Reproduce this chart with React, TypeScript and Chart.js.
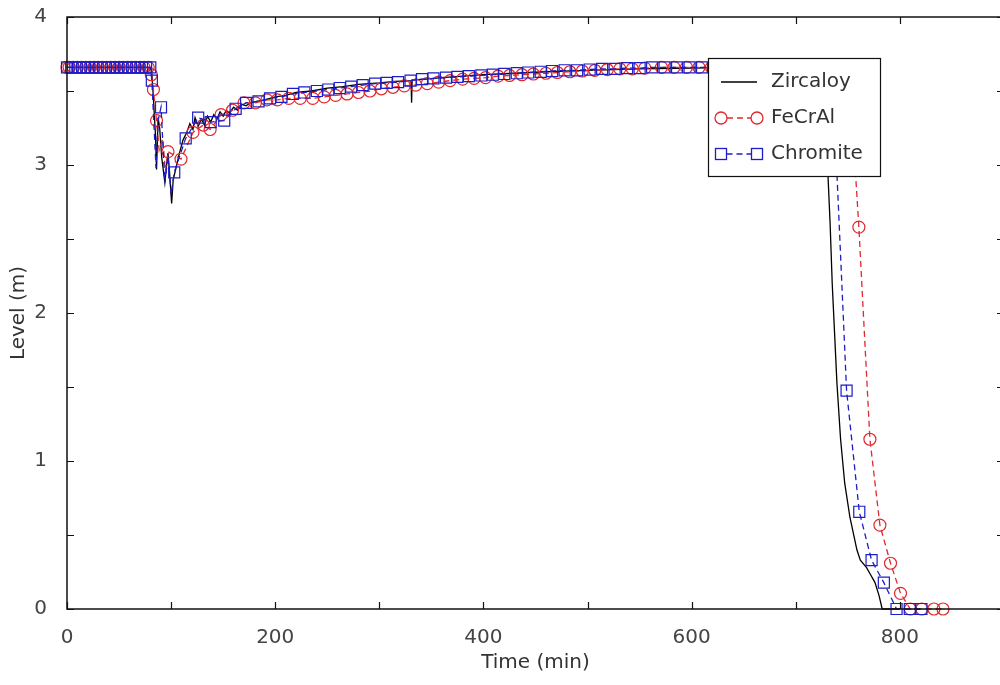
import React, { useEffect, useRef } from 'react';
import { Chart, registerables } from 'chart.js';

Chart.register(...registerables);

// ---------------- data ----------------
const seriesNames = ['Zircaloy', 'FeCrAl', 'Chromite'];

const xTickLabels = ['0', '200', '400', '600', '800'];
const yTickLabels = ['0', '1', '2', '3', '4'];

// Zircaloy (solid black line)
const zircaloyT = [
  0, 20, 40, 60, 80, 81.5, 83, 85, 86, 87.5, 89, 91, 94, 96, 97, 98.5, 100.5, 102, 105, 108,
  111.5, 115, 118, 121, 123, 126, 129, 132, 135, 138, 141, 144, 147, 150, 153, 156, 160, 164, 168, 172,
  176, 182, 190, 200, 210, 220, 235, 250, 265, 280, 300, 315, 330.5, 331, 331.5, 345, 360, 380, 400, 430,
  460, 500, 550, 600, 650, 700, 718, 724, 728, 731, 733, 735, 739.5, 743, 747, 752, 758.7, 762, 768, 772,
  776, 780, 783, 800,
];
const zircaloyL = [
  3.66, 3.66, 3.66, 3.66, 3.66, 3.62, 3.45, 3.2, 2.97, 3.32, 3.25, 3.05, 2.88, 3.02, 3.08, 2.95, 2.74, 2.9, 2.99, 3.08,
  3.17, 3.22, 3.28, 3.24, 3.32, 3.26, 3.31, 3.27, 3.33, 3.29, 3.34, 3.31, 3.36, 3.33, 3.37, 3.35, 3.39, 3.37, 3.41, 3.40,
  3.42, 3.43, 3.44, 3.46, 3.47, 3.49, 3.50, 3.52, 3.53, 3.545, 3.555, 3.565, 3.57, 3.42, 3.575, 3.58, 3.59, 3.60, 3.61, 3.62,
  3.63, 3.64, 3.65, 3.655, 3.66, 3.66, 3.66, 3.58, 3.3, 2.92, 2.6, 2.2, 1.53, 1.15, 0.85, 0.62, 0.40, 0.33, 0.28, 0.23,
  0.18, 0.09, 0.0, 0.0,
];

// FeCrAl (red dashed, circle markers)
const fecralT = [
  0, 2, 6, 10, 14, 18, 22, 26, 30, 34, 38, 42, 46, 50, 54, 58, 62, 66, 70, 74, 78,
  81, 83, 86, 97, 109.5, 121, 131, 137.5, 148, 159, 170, 181, 192, 202, 213, 224, 236, 247, 258,
  269, 280, 291, 302, 313, 324, 335, 346, 357, 368, 380, 391, 402, 414, 425, 437, 448, 460, 471, 483,
  495, 507, 519, 531, 543, 555, 571, 583, 595, 607, 619, 631, 643, 655, 667, 679, 691, 703, 715, 727,
  739, 751, 760.6, 771.2, 780.8, 791, 800.6, 810, 821, 832.7, 841.4,
];
const fecralL = [
  3.66, 3.66, 3.66, 3.66, 3.66, 3.66, 3.66, 3.66, 3.66, 3.66, 3.66, 3.66, 3.66, 3.66, 3.66, 3.66, 3.66, 3.66, 3.66, 3.66, 3.66,
  3.61, 3.51, 3.30, 3.09, 3.04, 3.22, 3.27, 3.24, 3.34, 3.37, 3.42, 3.42, 3.44, 3.44, 3.45, 3.45, 3.45, 3.46, 3.47,
  3.48, 3.49, 3.50, 3.515, 3.525, 3.535, 3.54, 3.55, 3.56, 3.57, 3.58, 3.585, 3.59, 3.60, 3.605, 3.61, 3.615, 3.62, 3.625, 3.63,
  3.635, 3.64, 3.645, 3.65, 3.65, 3.655, 3.66, 3.66, 3.66, 3.66, 3.66, 3.66, 3.66, 3.66, 3.66, 3.66, 3.66, 3.66, 3.66, 3.66,
  3.66, 3.66, 2.58, 1.147, 0.567, 0.309, 0.106, 0, 0, 0, 0,
];
// FeCrAl extra line-only points in the dip
const fecralDipT = [88.5, 92, 94.5];
const fecralDipL = [3.10, 3.18, 2.96];

// Chromite (blue dashed, square markers)
const chromiteT = [
  0, 4, 8, 12, 16, 20, 24, 28, 32, 36, 40, 44, 48, 52, 56, 60, 64, 68, 72, 76, 80,
  81.5, 90.3, 103, 114, 126, 138, 151, 162, 172, 184, 195, 206, 217, 228, 240, 251, 262, 273, 284,
  296, 307, 318, 330, 341, 352, 364, 375, 386, 398, 409, 420, 432, 443, 455, 466, 478, 490, 502, 514,
  526, 538, 550, 562, 574, 586, 598, 610, 622, 634, 646, 658, 670, 682, 694, 706, 718, 728, 735, 748.8,
  761, 772.8, 784.6, 796.8, 809.5, 820.7,
];
const chromiteL = [
  3.66, 3.66, 3.66, 3.66, 3.66, 3.66, 3.66, 3.66, 3.66, 3.66, 3.66, 3.66, 3.66, 3.66, 3.66, 3.66, 3.66, 3.66, 3.66, 3.66, 3.66,
  3.57, 3.39, 2.95, 3.18, 3.32, 3.29, 3.30, 3.38, 3.42, 3.43, 3.45, 3.46, 3.48, 3.49, 3.50, 3.51, 3.52, 3.53, 3.54,
  3.55, 3.555, 3.56, 3.57, 3.58, 3.585, 3.59, 3.595, 3.60, 3.605, 3.61, 3.615, 3.62, 3.625, 3.63, 3.635, 3.64, 3.64, 3.645, 3.65,
  3.65, 3.655, 3.655, 3.66, 3.66, 3.66, 3.66, 3.66, 3.66, 3.66, 3.66, 3.66, 3.66, 3.66, 3.66, 3.66, 3.66, 3.66, 3.66, 1.475,
  0.657, 0.33, 0.178, 0, 0, 0,
];
// Chromite extra line-only points in the dip
const chromiteDipT = [85.5, 87.5, 94, 97, 100];
const chromiteDipL = [2.98, 3.30, 2.88, 3.06, 2.80];

// ---------------- helpers ----------------
const toPts = (t: number[], l: number[]) => t.map((x, i) => ({ x, y: l[i] }));
const mergePts = (t1: number[], l1: number[], t2: number[], l2: number[]) =>
  [...toPts(t1, l1), ...toPts(t2, l2)].sort((a, b) => a.x - b.x);

const RED = 'rgb(225,40,45)';
const BLUE = 'rgb(28,28,200)';
const FONT_FAMILY = '"DejaVu Sans", Verdana, sans-serif';

const frameTicksPlugin = {
  id: 'frameTicks',
  afterDatasetsDraw(chart: any) {
    const { ctx, chartArea, scales } = chart;
    const { left, right, top, bottom } = chartArea;
    const len = 7;
    ctx.save();
    ctx.strokeStyle = '#111';
    ctx.lineWidth = 1.5;
    ctx.strokeRect(left, top, right - left, bottom - top);
    ctx.lineWidth = 1.2;
    ctx.beginPath();
    scales.x.ticks.forEach((tk: any) => {
      const px = Math.round(scales.x.getPixelForValue(tk.value)) + 0.5;
      ctx.moveTo(px, bottom);
      ctx.lineTo(px, bottom - len);
      ctx.moveTo(px, top);
      ctx.lineTo(px, top + len);
    });
    scales.y.ticks.forEach((tk: any) => {
      const py = Math.round(scales.y.getPixelForValue(tk.value)) + 0.5;
      ctx.moveTo(left, py);
      ctx.lineTo(left + len, py);
      ctx.moveTo(right, py);
      ctx.lineTo(right - len, py);
    });
    ctx.stroke();

    // legend box
    const bx = right - 296;
    const by = top + 41;
    const bw = 172;
    const bh = 118;
    ctx.fillStyle = '#fff';
    ctx.fillRect(bx, by, bw, bh);
    ctx.strokeStyle = '#111';
    ctx.lineWidth = 1.2;
    ctx.strokeRect(bx + 0.5, by + 0.5, bw, bh);

    const rowY = [by + 24, by + 60, by + 96];
    const sx1 = bx + 13;
    const sx2 = bx + 49;
    // Zircaloy sample
    ctx.strokeStyle = '#000';
    ctx.lineWidth = 1.3;
    ctx.setLineDash([]);
    ctx.beginPath();
    ctx.moveTo(sx1, rowY[0]);
    ctx.lineTo(sx2, rowY[0]);
    ctx.stroke();
    // FeCrAl sample
    ctx.strokeStyle = RED;
    ctx.setLineDash([6, 4]);
    ctx.beginPath();
    ctx.moveTo(sx1 + 6, rowY[1]);
    ctx.lineTo(sx2 - 6, rowY[1]);
    ctx.stroke();
    ctx.setLineDash([]);
    [sx1, sx2].forEach((sx) => {
      ctx.beginPath();
      ctx.arc(sx, rowY[1], 6, 0, Math.PI * 2);
      ctx.stroke();
    });
    // Chromite sample
    ctx.strokeStyle = BLUE;
    ctx.setLineDash([6, 4]);
    ctx.beginPath();
    ctx.moveTo(sx1 + 5.5, rowY[2]);
    ctx.lineTo(sx2 - 5.5, rowY[2]);
    ctx.stroke();
    ctx.setLineDash([]);
    [sx1, sx2].forEach((sx) => {
      ctx.strokeRect(sx - 5.5, rowY[2] - 5.5, 11, 11);
    });

    ctx.fillStyle = '#333';
    ctx.font = `20px ${FONT_FAMILY}`;
    ctx.textAlign = 'left';
    ctx.textBaseline = 'middle';
    seriesNames.forEach((name, i) => {
      ctx.fillText(name, bx + 63, rowY[i]);
    });
    ctx.restore();
  },
};

export default function App() {
  const canvasRef = useRef<HTMLCanvasElement | null>(null);

  useEffect(() => {
    const canvas = canvasRef.current;
    if (!canvas) return;
    const tickFont = { family: FONT_FAMILY, size: 20 };
    const chart = new Chart(canvas, {
      type: 'scatter',
      data: {
        datasets: [
          {
            label: seriesNames[2] + ' markers',
            data: toPts(chromiteT, chromiteL),
            showLine: false,
            pointStyle: 'rect',
            pointRadius: 7.8,
            pointBorderWidth: 1.2,
            pointBorderColor: BLUE,
            pointBackgroundColor: 'rgba(0,0,0,0)',
            clip: false,
            order: 0,
          },
          {
            label: seriesNames[2],
            data: mergePts(chromiteT, chromiteL, chromiteDipT, chromiteDipL),
            showLine: true,
            borderColor: BLUE,
            borderWidth: 1.3,
            borderDash: [6, 4],
            pointRadius: 0,
            clip: false,
            order: 1,
          },
          {
            label: seriesNames[1] + ' markers',
            data: toPts(fecralT, fecralL),
            showLine: false,
            pointStyle: 'circle',
            pointRadius: 6,
            pointBorderWidth: 1.2,
            pointBorderColor: RED,
            pointBackgroundColor: 'rgba(0,0,0,0)',
            clip: false,
            order: 2,
          },
          {
            label: seriesNames[1],
            data: mergePts(fecralT, fecralL, fecralDipT, fecralDipL),
            showLine: true,
            borderColor: RED,
            borderWidth: 1.3,
            borderDash: [6, 4],
            pointRadius: 0,
            clip: false,
            order: 3,
          },
          {
            label: seriesNames[0],
            data: toPts(zircaloyT, zircaloyL),
            showLine: true,
            borderColor: '#000',
            borderWidth: 1.3,
            pointRadius: 0,
            clip: false,
            order: 4,
          },
        ],
      },
      options: {
        animation: false,
        responsive: false,
        maintainAspectRatio: false,
        events: [],
        layout: { padding: 0 },
        plugins: { legend: { display: false }, tooltip: { enabled: false } },
        scales: {
          x: {
            type: 'linear',
            min: 0,
            max: 900,
            grid: { display: false },
            border: { display: false },
            ticks: {
              stepSize: 100,
              autoSkip: false,
              maxRotation: 0,
              padding: 9,
              color: '#444',
              font: tickFont,
              callback: (v: any) => (xTickLabels.includes(String(v)) ? String(v) : ''),
            },
            title: {
              display: true,
              text: 'Time (min)',
              color: '#333',
              font: tickFont,
              padding: { top: 0, bottom: 10 },
            },
            afterFit: (s: any) => {
              s.height = 76;
            },
          },
          y: {
            type: 'linear',
            min: 0,
            max: 4,
            grid: { display: false },
            border: { display: false },
            ticks: {
              stepSize: 0.5,
              autoSkip: false,
              padding: 12,
              color: '#444',
              font: tickFont,
              callback: (v: any) => (yTickLabels.includes(String(v)) ? String(v) : ''),
            },
            title: {
              display: true,
              text: 'Level (m)',
              color: '#333',
              font: tickFont,
              padding: { top: 7, bottom: 0 },
            },
            afterFit: (s: any) => {
              s.width = 67;
            },
          },
        },
      },
      plugins: [frameTicksPlugin],
    } as any);
    return () => chart.destroy();
  }, []);

  return (
    <div
      style={{
        position: 'fixed',
        left: 0,
        top: 0,
        width: 1000,
        height: 685,
        overflow: 'hidden',
        background: '#fff',
      }}
    >
      <canvas
        ref={canvasRef}
        width={1013}
        height={692}
        style={{ display: 'block', position: 'absolute', left: 0, top: -7, width: 1013, height: 692 }}
      />
    </div>
  );
}
